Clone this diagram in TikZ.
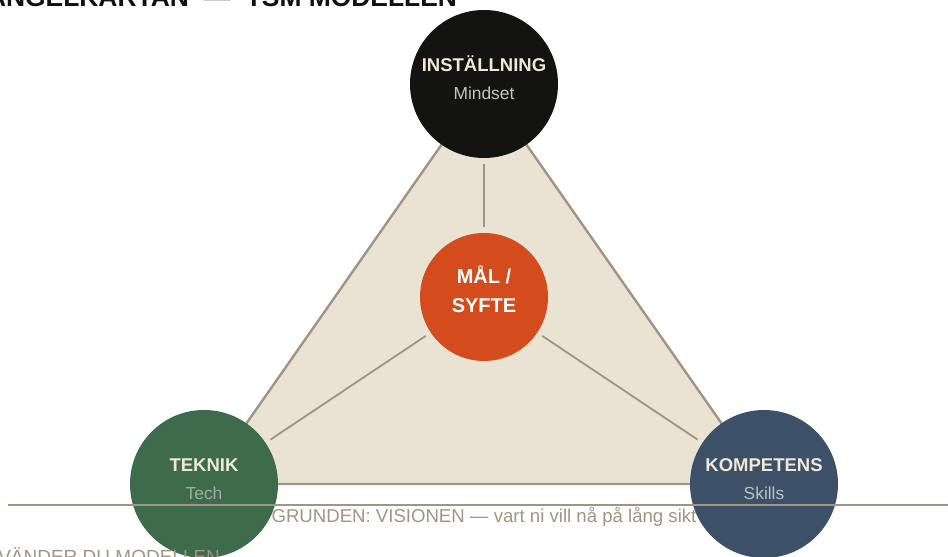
\documentclass[tikz,border=0pt]{standalone}
\usepackage{fontspec}
\setmainfont{Liberation Sans}
\begin{document}
\begin{tikzpicture}[x=1pt,y=1pt]
\definecolor{fillColor}{RGB}{255,255,255}
\path[use as bounding box,fill=fillColor] (0,0) rectangle (948,557);
\definecolor{lineColor}{RGB}{163,147,130}
\definecolor{baseColor}{RGB}{234,227,212}
\definecolor{creamColor}{RGB}{239,232,216}
\tikzset{
  pillar/.style={circle,inner sep=0pt,outer sep=6pt,minimum size=148pt},
  spoke/.style={draw=lineColor,line width=1.8pt,line join=round},
  headText/.style={text=creamColor,anchor=base,inner sep=0pt,outer sep=0pt,font=\bfseries,scale=1.85},
  subText/.style={anchor=base,inner sep=0pt,outer sep=0pt,scale=1.74}
}
\begin{scope}
\path[clip] (0,0) rectangle (948,557);
\definecolor{drawColor}{RGB}{17,17,17}

\node[text=drawColor,anchor=base east,inner sep=0pt,outer sep=0pt,font=\bfseries,scale=2.64] (title) at (457,550) {TRIANGELKARTAN \hspace{3pt}—\hspace{3pt} TSM MODELLEN};
\end{scope}

% triangle
\coordinate (topC) at (484,473);
\coordinate (leftC) at (204,73);
\coordinate (rightC) at (764,73);
\path[draw=lineColor,line width=2.4pt,line join=round,fill=baseColor] (topC) --
	(leftC) --
	(rightC) -- cycle;

\node[text=lineColor,anchor=base,inner sep=0pt,outer sep=0pt,scale=1.86] (grund) at (484,34) {GRUNDEN: VISIONEN — vart ni vill nå på lång sikt};

% pillars
\definecolor{fillColor}{RGB}{19,19,17}
\node[pillar,fill=fillColor] (inst) at (topC) {};
\definecolor{fillColor}{RGB}{61,107,76}
\node[pillar,fill=fillColor] (tek) at (leftC) {};
\definecolor{fillColor}{RGB}{60,80,103}
\node[pillar,fill=fillColor] (komp) at (rightC) {};
\definecolor{fillColor}{RGB}{212,75,30}
\node[pillar,fill=fillColor,minimum size=128pt] (mal) at (484,260) {};

\path[spoke] (mal) -- (inst);
\path[spoke] (mal) -- (tek);
\path[spoke] (mal) -- (komp);

\node[headText] (instHead) at (484,485) {INSTÄLLNING};
\definecolor{drawColor}{RGB}{200,196,188}
\node[subText,text=drawColor] (instSub) at (484,457) {Mindset};

\node[headText,text=white,scale=1.08] (malHead) at (484,273) {MÅL /};
\node[headText,text=white,scale=1.08] (malSub) at (484,244) {SYFTE};

\node[headText] (tekHead) at (204,85) {TEKNIK};
\definecolor{drawColor}{RGB}{160,172,160}
\node[subText,text=drawColor] (tekSub) at (204,57) {Tech};

\node[headText] (kompHead) at (764,85) {KOMPETENS};
\definecolor{drawColor}{RGB}{185,192,200}
\node[subText,text=drawColor] (kompSub) at (764,57) {Skills};

% ground line
\coordinate (groundW) at (8,52);
\coordinate (groundE) at (948,52);
\path[draw=lineColor,line width=1.8pt] (groundW) -- (groundE);

\begin{scope}
\path[clip] (0,0) rectangle (948,557);
\node[text=lineColor,anchor=base east,inner sep=0pt,outer sep=0pt,scale=1.9] (howto) at (220,-6) {SÅ ANVÄNDER DU MODELLEN};
\end{scope}
\end{tikzpicture}
\end{document}
